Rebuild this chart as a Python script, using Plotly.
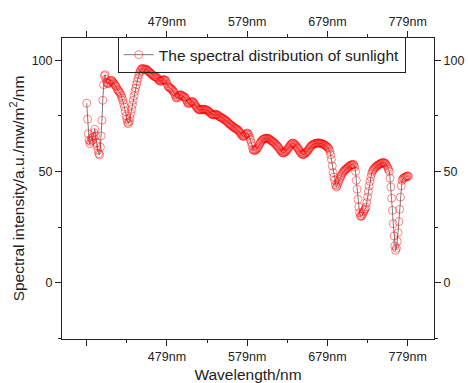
import plotly.graph_objects as go

# ---------------- data ----------------
wavelength_nm = list(range(379, 781))

intensity = [
    80.7, 73.5, 67.0, 64.0, 62.5, 63.5, 65.0, 64.0, 65.5, 67.5,   # 379-388
    69.0, 66.0, 63.0, 61.5, 59.5, 58.0, 57.5, 61.0, 66.0, 73.0,   # 389-398
    82.0, 89.0, 93.0, 93.5, 91.5, 90.0, 89.5, 89.5, 90.0, 90.5,   # 399-408
    91.0, 91.0, 90.5, 90.0, 89.5, 89.0, 88.5, 88.0, 87.0, 86.5,   # 409-418
    86.0, 85.5, 85.0, 84.0, 83.0, 82.0, 80.5, 79.0, 77.0, 75.0,   # 419-428
    73.5, 72.0, 71.5, 72.5, 74.0, 76.0, 78.0, 80.0, 82.0, 84.0,   # 429-438
    86.0, 87.5, 89.0, 90.5, 92.0, 93.5, 94.5, 95.5, 96.0, 96.3,   # 439-448
    96.3, 96.0, 95.8, 96.0, 96.0, 95.7, 95.3, 95.0, 94.7, 94.3,   # 449-458
    94.0, 93.7, 93.4, 93.0, 92.8, 92.6, 92.5, 92.3, 92.0, 91.5,   # 459-468
    91.0, 90.7, 90.5, 90.7, 91.0, 91.2, 91.3, 91.2, 91.0, 90.5,   # 469-478
    89.5, 88.5, 88.0, 87.7, 87.5, 87.3, 87.0, 86.5, 86.0, 85.5,   # 479-488
    84.5, 83.5, 83.0, 83.2, 83.8, 84.3, 84.5, 84.5, 84.3, 84.0,   # 489-498
    83.8, 83.6, 83.4, 83.0, 82.3, 81.5, 80.7, 80.5, 80.7, 81.0,   # 499-508
    81.3, 81.5, 81.4, 81.0, 80.5, 80.0, 79.3, 78.8, 78.4, 78.0,   # 509-518
    77.8, 77.6, 77.7, 77.8, 78.0, 78.0, 78.0, 77.9, 77.8, 77.7,   # 519-528
    77.5, 77.3, 77.0, 76.7, 76.3, 76.0, 75.7, 75.5, 75.4, 75.5,   # 529-538
    75.6, 75.7, 75.6, 75.4, 75.1, 74.8, 74.5, 74.3, 74.1, 74.0,   # 539-548
    73.8, 73.5, 73.2, 73.0, 72.7, 72.4, 72.0, 71.6, 71.3, 71.0,   # 549-558
    70.8, 70.5, 70.2, 69.9, 69.6, 69.4, 69.2, 69.0, 68.8, 68.4,   # 559-568
    68.0, 67.5, 67.0, 66.5, 66.0, 65.8, 65.8, 66.2, 66.7, 67.1,   # 569-578
    67.3, 67.0, 66.3, 65.3, 64.3, 63.0, 61.5, 60.0, 59.5, 59.4,   # 579-588
    59.5, 59.8, 60.2, 60.6, 61.2, 62.0, 62.7, 63.3, 63.8, 64.2,   # 589-598
    64.5, 64.7, 64.8, 64.9, 65.0, 65.0, 64.9, 64.7, 64.4, 64.1,   # 599-608
    63.8, 63.6, 63.4, 63.1, 62.8, 62.4, 62.0, 61.6, 61.3, 60.8,   # 609-618
    60.3, 59.7, 59.2, 58.7, 58.4, 58.3, 58.4, 58.7, 59.0, 59.4,   # 619-628
    59.8, 60.3, 60.9, 61.5, 62.0, 62.4, 62.7, 62.8, 62.6, 62.3,   # 629-638
    61.9, 61.4, 60.9, 60.5, 60.0, 59.4, 58.8, 58.2, 57.8, 57.6,   # 639-648
    57.6, 57.8, 58.1, 58.5, 58.8, 59.1, 59.6, 60.2, 60.7, 61.2,   # 649-658
    61.6, 61.9, 62.1, 62.3, 62.5, 62.6, 62.7, 62.8, 62.8, 62.8,   # 659-668
    62.8, 62.7, 62.6, 62.5, 62.4, 62.2, 62.0, 61.8, 61.5, 61.2,   # 669-678
    61.0, 60.6, 60.0, 59.0, 57.5, 55.4, 52.5, 49.5, 47.5, 46.0,   # 679-688
    44.0, 43.0, 43.5, 44.5, 45.5, 46.4, 47.3, 48.0, 48.7, 49.4,   # 689-698
    49.9, 50.3, 50.7, 51.0, 51.3, 51.7, 52.0, 52.3, 52.6, 52.8,   # 699-708
    53.0, 53.1, 53.2, 53.0, 52.0, 50.0, 46.0, 42.0, 37.5, 34.0,   # 709-718
    31.5, 30.0, 29.8, 30.2, 31.0, 31.8, 32.5, 33.2, 34.0, 36.0,   # 719-728
    38.5, 41.0, 43.5, 45.5, 47.5, 49.0, 50.0, 50.7, 51.2, 51.6,   # 729-738
    52.0, 52.3, 52.6, 52.9, 53.1, 53.3, 53.5, 53.7, 53.9, 54.0,   # 739-748
    54.0, 53.9, 53.6, 53.2, 52.6, 51.8, 51.0, 50.0, 47.0, 43.0,   # 749-758
    38.0, 32.5, 26.5, 21.0, 16.5, 14.5, 15.5, 18.5, 22.5, 27.5,   # 759-768
    33.0, 38.5, 43.5, 46.0, 46.7, 47.1, 47.3, 47.5, 47.7, 47.9,   # 769-778
    48.0, 47.8,                                                   # 779-780
]

x_tick_vals = [479, 579, 679, 779]
x_tick_text = ["479nm", "579nm", "679nm", "779nm"]
x_unlabeled_major = [379]
x_minor_vals = [429, 529, 629, 729]
y_tick_vals = [0, 50, 100]
y_tick_text = ["0", "50", "100"]
y_minor_vals = [-25, 25, 75]

series_name = "The spectral distribution of sunlight"
x_title = "Wavelength/nm"
y_title = "Spectral intensity/a.u./mw/m<sup>2</sup>/nm"

# ---------------- styling ----------------
FONT = "Arial, 'Liberation Sans', sans-serif"
INK = "#222222"
X_RANGE = [348.2, 811.8]
Y_RANGE = [-25.3, 110]

fig = go.Figure()
fig.add_trace(go.Scatter(
    x=wavelength_nm, y=intensity, mode="lines+markers", name=series_name,
    line=dict(color="#5a5a5a", width=0.8),
    marker=dict(symbol="circle-open", size=8, color="rgba(255,0,0,0.6)",
                line=dict(width=0.8)),
))
# ghost traces so the mirrored / extra axes get drawn
for xa, ya in (("x2", "y2"), ("x3", "y"), ("x4", "y")):
    fig.add_trace(go.Scatter(x=[wavelength_nm[0]], y=[None], xaxis=xa, yaxis=ya,
                             mode="markers", showlegend=False, hoverinfo="skip"))

common = dict(showline=True, linecolor=INK, linewidth=1, ticks="outside",
              ticklen=6, tickwidth=1, tickcolor=INK, showgrid=False,
              zeroline=False, tickfont=dict(family=FONT, size=12.5, color=INK))

x_minor = dict(tickmode="array", tickvals=x_minor_vals, ticks="outside",
               ticklen=3, tickcolor=INK, tickwidth=1, showgrid=False)
y_minor = dict(tickmode="array", tickvals=y_minor_vals, ticks="outside",
               ticklen=3, tickcolor=INK, tickwidth=1, showgrid=False)

bare_tick = dict(range=X_RANGE, tickmode="array", tickvals=x_unlabeled_major,
                 showticklabels=False, ticks="outside", ticklen=6, tickwidth=1,
                 tickcolor=INK, showline=False, showgrid=False, zeroline=False,
                 overlaying="x", anchor="y")

fig.update_layout(
    width=468, height=383,
    margin=dict(l=62, r=34, t=38, b=44, autoexpand=False),
    paper_bgcolor="white", plot_bgcolor="white",
    font=dict(family=FONT, color=INK),
    xaxis=dict(range=X_RANGE, tickmode="array", tickvals=x_tick_vals,
               ticktext=x_tick_text, minor=x_minor, anchor="y",
               title=dict(text=x_title, font=dict(size=15.5, color=INK), standoff=6),
               **common),
    xaxis2=dict(range=X_RANGE, tickmode="array", tickvals=x_tick_vals,
                ticktext=x_tick_text, minor=x_minor, overlaying="x",
                side="top", anchor="y2", **common),
    xaxis3=dict(side="bottom", **bare_tick),
    xaxis4=dict(side="top", **bare_tick),
    yaxis=dict(range=Y_RANGE, tickmode="array", tickvals=y_tick_vals,
               ticktext=y_tick_text, minor=y_minor, anchor="x",
               title=dict(text=y_title, font=dict(size=15.5, color=INK), standoff=3),
               **common),
    yaxis2=dict(range=Y_RANGE, tickmode="array", tickvals=y_tick_vals,
                ticktext=y_tick_text, minor=y_minor, overlaying="y",
                side="right", anchor="x2", **common),
    legend=dict(x=0.15, y=1.003, xanchor="left", yanchor="top",
                bgcolor="rgba(255,255,255,0)", bordercolor=INK, borderwidth=1,
                font=dict(family=FONT, size=15.5, color=INK),
                itemwidth=30, tracegroupgap=0),
    showlegend=True,
)

fig.write_html("out.html")
